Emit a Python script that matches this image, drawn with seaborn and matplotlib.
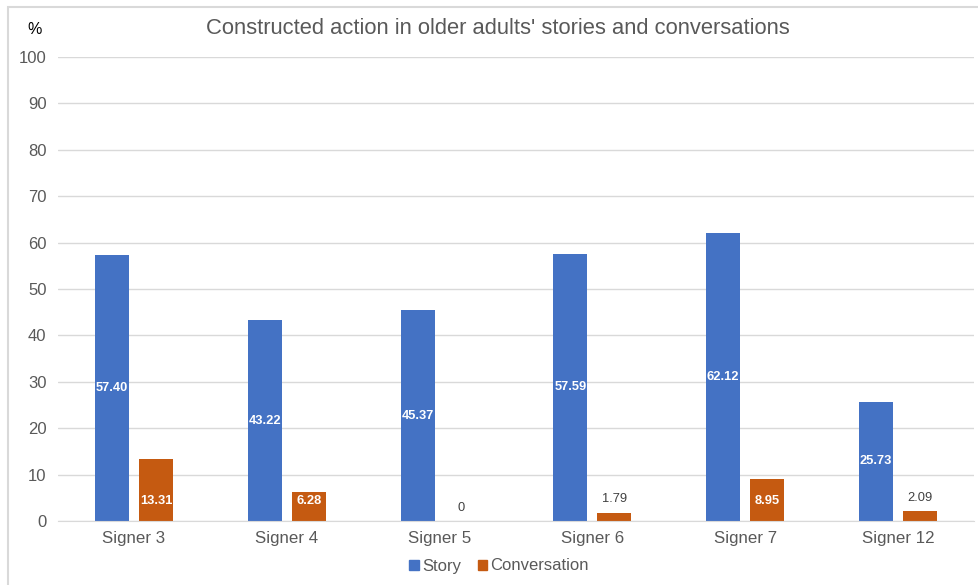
import pandas as pd
import numpy as np
import matplotlib.pyplot as plt
import matplotlib.patches as mpatches
import seaborn as sns

# dados
signers = ['Signer 3', 'Signer 4', 'Signer 5', 'Signer 6', 'Signer 7', 'Signer 12']
story = [57.40, 43.22, 45.37, 57.59, 62.12, 25.73]
conversation = [13.31, 6.28, 0, 1.79, 8.95, 2.09]
series = ['Story', 'Conversation']
yticks = [0, 10, 20, 30, 40, 50, 60, 70, 80, 90, 100]

df = pd.DataFrame({'signer': signers * 2,
                   'tipo': ['Story'] * len(signers) + ['Conversation'] * len(signers),
                   'valor': story + conversation})

cores = {'Story': '#4472C4', 'Conversation': '#C55A11'}
cinza = '#595959'

sns.set_style('white')
plt.rcParams['font.family'] = ['Liberation Sans', 'DejaVu Sans']

fig = plt.figure(figsize=(9.79, 5.85), dpi=100)
ax = fig.add_axes([0.0588, 0.1094, 0.9365, 0.7932])

sns.barplot(data=df, x='signer', y='valor', hue='tipo', hue_order=series,
            palette=cores, width=0.576, gap=0.23, ax=ax, legend=False,
            edgecolor='none', saturation=1)

ax.set_ylim(0, 100)
ax.set_yticks(yticks)
ax.set_xlim(-0.5, len(signers) - 0.5)
ax.yaxis.grid(True, color='#D9D9D9', linewidth=1)
ax.set_axisbelow(True)
for s in ['top', 'right', 'left']:
    ax.spines[s].set_visible(False)
ax.spines['bottom'].set_color('#D9D9D9')
ax.tick_params(axis='y', length=0, pad=8, labelsize=12, labelcolor=cinza)
ax.tick_params(axis='x', length=0, pad=7, labelsize=12.2, labelcolor=cinza)
ax.set_xlabel('')
ax.set_ylabel('')

# rótulos das barras
for container, nome in zip(ax.containers, series):
    for bar, val in zip(container, container.datavalues):
        x = bar.get_x() + bar.get_width() / 2
        h = bar.get_height()
        if nome == 'Story':
            ax.text(x, h / 2, f'{val:.2f}', ha='center', va='center',
                    color='white', fontsize=9.3, fontweight='bold')
        elif h > 5:
            ax.text(x, 4.4, f'{val:.2f}', ha='center', va='center',
                    color='white', fontsize=9.3, fontweight='bold')
        else:
            txt = '0' if val == 0 else f'{val:.2f}'
            ax.text(x, h + 2.9, txt, ha='center', va='center',
                    color='#404040', fontsize=9.3)

fig.text(498 / 979, 1 - 28 / 585, "Constructed action in older adults' stories and conversations",
         ha='center', va='center', fontsize=15.8, color=cinza)
fig.text(35 / 979, 1 - 29 / 585, '%', ha='center', va='center', fontsize=11.5, color='black')

handles = [mpatches.Patch(color=cores[s], label=s) for s in series]
fig.legend(handles=handles, loc='center', bbox_to_anchor=(499 / 979, 1 - 566 / 585),
           ncol=2, frameon=False, fontsize=12, handlelength=0.55, handleheight=0.55,
           handletextpad=0.2, columnspacing=1.0, labelcolor=cinza)

# moldura
fig.patches.append(mpatches.Rectangle((8 / 979, -0.1), 1.2, 1 - 7 / 585 + 0.1,
                                      transform=fig.transFigure, fill=False,
                                      edgecolor='#D9D9D9', linewidth=1.5))

fig.savefig('out.png', dpi=100)
